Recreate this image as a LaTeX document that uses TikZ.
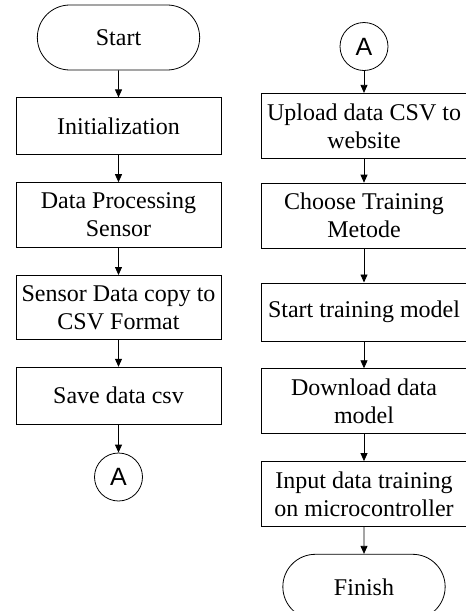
\documentclass[tikz,border=0pt]{standalone}
\usepackage{fontspec}
\usepackage{tikz}
\setmainfont{Liberation Serif}
\newfontfamily\conffont{Liberation Sans}
\usetikzlibrary{positioning,shapes.misc,arrows.meta}

\begin{document}
\begin{tikzpicture}[->,>={Triangle[length=8pt,width=7pt]},line width=0.8pt,
                    node distance=27pt,x=1pt,y=-1pt,
                    font=\fontsize{24}{28}\selectfont]
  \tikzstyle{process}=[draw,rectangle,minimum width=205pt,minimum height=57pt,align=center,inner sep=2pt]
  \tikzstyle{terminal}=[draw,rounded rectangle,minimum width=169pt,minimum height=65pt]
  \tikzstyle{connector}=[draw,circle,minimum size=48pt,inner sep=0pt,font=\conffont\fontsize{25}{28}\selectfont]

  \useasboundingbox (0,0) rectangle (466,611);

  % left column
  \node[terminal]      (start)                          at (118.5,37.5) {Start};
  \node[process]       (init)   [below=of start]        {Initialization};
  \node[process]       (proc)   [below=of init,minimum height=65pt]  {Data Processing\\Sensor};
  \node[process]       (copy)   [below=of proc,minimum height=64pt]  {Sensor Data copy to\\CSV Format};
  \node[process]       (save)   [below=of copy]         {Save data csv};
  \node[connector]     (outA)   [below=28pt of save]    {A};

  % right column
  \node[connector]     (inA)                            at (364,46.5) {A};
  \node[process]       (upload) [below=22pt of inA,minimum height=65pt]    {Upload data CSV to\\website};
  \node[process]       (choose) [below=24pt of upload,minimum height=65pt] {Choose Training\\Metode};
  \node[process]       (train)  [below=34pt of choose,minimum height=58pt] {Start training model};
  \node[process]       (down)   [below=of train,minimum height=65pt]       {Download data\\model};
  \node[process]       (input)  [below=of down,minimum height=65pt]        {Input data training\\on microcontroller};
  \node[terminal]      (finish) [below=of input]        {Finish};

  \path (start) edge (init)
        (init) edge (proc)
        (proc) edge (copy)
        (copy) edge (save)
        (save) edge (outA)
        (inA) edge (upload)
        (upload) edge (choose)
        (choose) edge (train)
        (train) edge (down)
        (down) edge (input)
        (input) edge (finish);

\end{tikzpicture}
\end{document}
